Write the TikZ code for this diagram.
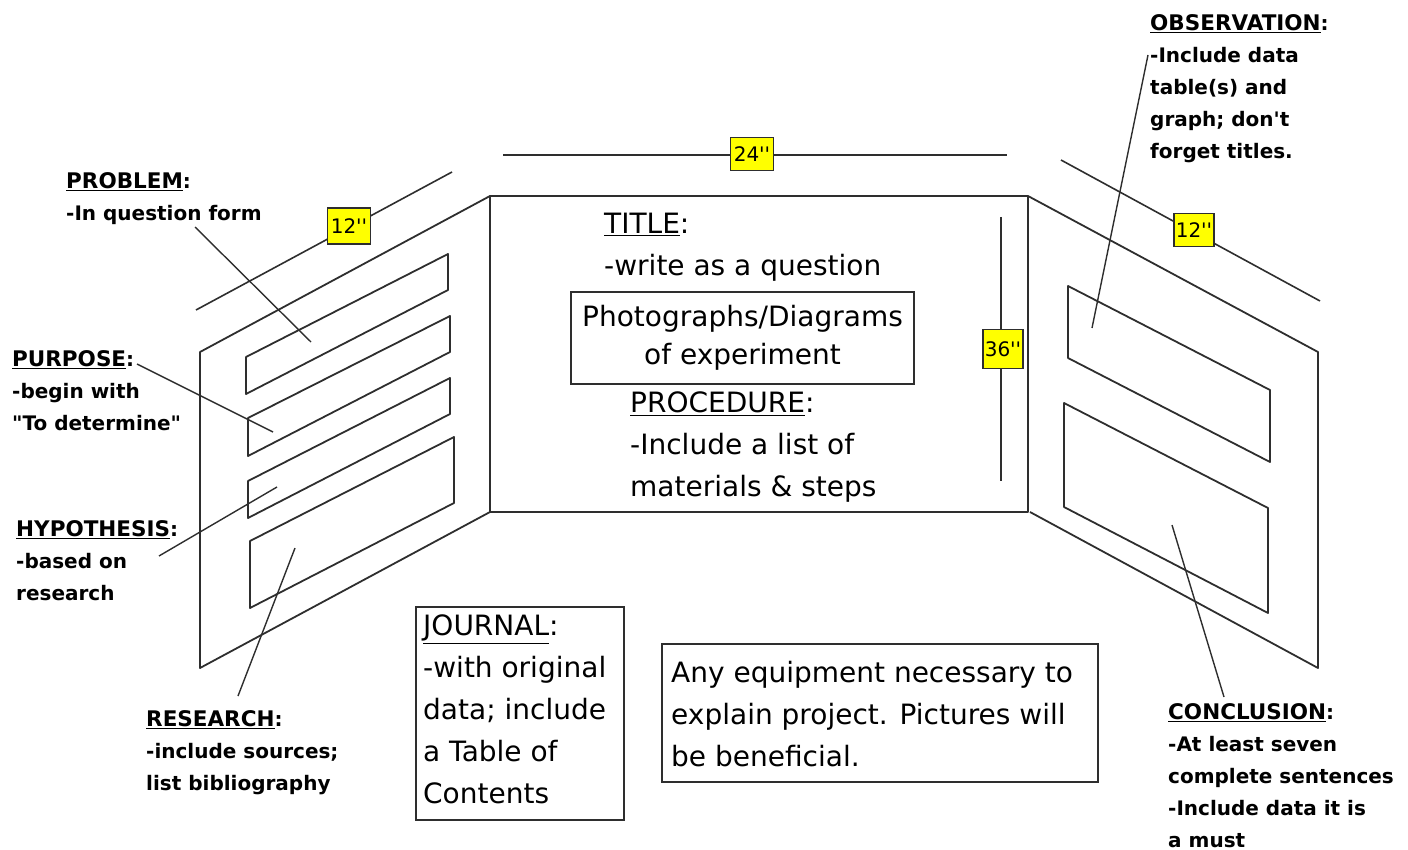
\documentclass[tikz,border=0pt]{standalone}
\usepackage{fontspec}
\newfontfamily\boardFont{DejaVu Sans}
\usetikzlibrary{positioning, calc}
\definecolor{boardInk}{HTML}{2E2E2E}
\definecolor{tagYellow}{HTML}{FFFF00}
\newcommand{\noteHead}[1]{\underline{\fontsize{21.5}{32}\selectfont #1}:}
\tikzset{
    boardLine/.style={
        draw=boardInk, line width=1.8pt, line join=round
    },
    dimLine/.style={
        draw=boardInk, line width=1.6pt
    },
    leaderLine/.style={
        draw=boardInk, line width=1.4pt
    },
    dimTag/.style={
        draw=boardInk, fill=tagYellow, line width=1.8pt, inner sep=0pt, font=\boardFont\fontsize{20}{22}\selectfont, text=black
    },
    smallNote/.style={
        anchor=north west, align=left, inner sep=0pt, text=black, font=\boardFont\fontsize{20}{32}\selectfont\bfseries
    },
    bigNote/.style={
        anchor=north west, align=left, inner sep=0pt, text=black, font=\boardFont\fontsize{28}{42}\selectfont
    },
    noteBox/.style={
        draw=boardInk, line width=1.8pt
    }
}

\begin{document}
\begin{tikzpicture}[x=1pt, y=-1pt]
    \useasboundingbox (0, 0) rectangle (1408, 850);

    % ── BOARD PANELS
    \draw[boardLine] (490, 196) rectangle (1028, 512);
    \draw[boardLine] (490, 196) -- (200, 352) -- (200, 668) -- (490, 512);
    \draw[boardLine] (1028, 196) -- (1318, 352) -- (1318, 668) -- (1030, 512);

    % ── LEFT PANEL SLOTS
    \draw[boardLine] (448, 254) -- (448, 290) -- (246, 394) -- (246, 357) -- cycle;
    \draw[boardLine] (450, 316) -- (450, 352) -- (248, 456) -- (248, 418) -- cycle;
    \draw[boardLine] (450, 378) -- (450, 414) -- (248, 518) -- (248, 481) -- cycle;
    \draw[boardLine] (454, 437) -- (454, 503) -- (250, 608) -- (250, 541) -- cycle;

    % ── RIGHT PANEL SLOTS
    \draw[boardLine] (1068, 286) -- (1270, 390) -- (1270, 462) -- (1068, 358) -- cycle;
    \draw[boardLine] (1064, 403) -- (1268, 508) -- (1268, 613) -- (1064, 507) -- cycle;

    % ── DIMENSION LINES
    \coordinate (leftDimA) at (196, 310);
    \coordinate (leftDimB) at (452, 172);
    \coordinate (rightDimA) at (1061, 160);
    \coordinate (rightDimB) at (1320, 301);
    \coordinate (topDimA) at (503, 155);
    \coordinate (topDimB) at (1007, 155);
    \coordinate (heightDimA) at (1001, 217);
    \coordinate (heightDimB) at (1001, 481);

    \draw[dimLine] (leftDimA) -- (leftDimB);
    \draw[dimLine] (rightDimA) -- (rightDimB);
    \draw[dimLine] (topDimA) -- (topDimB);
    \draw[dimLine] (heightDimA) -- (heightDimB);

    % ── DIMENSION TAGS
    \node[dimTag, minimum width=43, minimum height=36] (tagLeft) at (349, 226) {12''};
    \node[dimTag, minimum width=40, minimum height=33] (tagRight) at (1194, 230) {12''};
    \node[dimTag, minimum width=43, minimum height=33] (tagTop) at (752, 154) {24''};
    \node[dimTag, minimum width=40, minimum height=39] (tagHeight) at (1003, 349) {36''};

    % ── SIDE NOTES
    \node[smallNote] (problemNote) at (66, 172) {\noteHead{PROBLEM}\\-In question form};
    \node[smallNote] (purposeNote) at (12, 350) {\noteHead{PURPOSE}\\-begin with\\"To determine"};
    \node[smallNote] (hypothesisNote) at (16, 520) {\noteHead{HYPOTHESIS}\\-based on\\research};
    \node[smallNote] (researchNote) at (146, 710) {\noteHead{RESEARCH}\\-include sources;\\list bibliography};
    \node[smallNote] (observationNote) at (1150, 14) {\noteHead{OBSERVATION}\\-Include data\\table(s) and\\graph; don't\\forget titles.};
    \node[smallNote] (conclusionNote) at (1168, 703) {\noteHead{CONCLUSION}\\-At least seven\\complete sentences\\-Include data it is\\a must};

    % ── LEADER LINES
    \coordinate (problemFrom) at (195, 227);
    \coordinate (problemTo) at (311, 342);
    \coordinate (purposeFrom) at (137, 364);
    \coordinate (purposeTo) at (273, 432);
    \coordinate (hypothesisFrom) at (159, 556);
    \coordinate (hypothesisTo) at (277, 487);
    \coordinate (researchFrom) at (238, 696);
    \coordinate (researchTo) at (295, 548);
    \coordinate (observationFrom) at (1148, 55);
    \coordinate (observationTo) at (1092, 328);
    \coordinate (conclusionFrom) at (1224, 697);
    \coordinate (conclusionTo) at (1172, 525);

    \draw[leaderLine] (problemFrom) -- (problemTo);
    \draw[leaderLine] (purposeFrom) -- (purposeTo);
    \draw[leaderLine] (hypothesisFrom) -- (hypothesisTo);
    \draw[leaderLine] (researchFrom) -- (researchTo);
    \draw[leaderLine] (observationFrom) -- (observationTo);
    \draw[leaderLine] (conclusionFrom) -- (conclusionTo);

    % ── CENTRE PANEL TEXT
    \node[bigNote] (titleNote) at (604, 213) {\underline{TITLE}:\\-write as a question};
    \node[noteBox, minimum width=343, minimum height=92, align=center, text=black, inner sep=0pt, font=\boardFont\fontsize{28}{38}\selectfont] (photoBox) at (742.5, 338) {Photographs/Diagrams\\of experiment};
    \node[bigNote] (procedureNote) at (630, 392) {\underline{PROCEDURE}:\\-Include a list of\\materials \& steps};

    % ── BOXES BELOW THE BOARD
    \node[noteBox, minimum width=208, minimum height=213] (journalBox) at (520, 713.5) {};
    \node[bigNote] (journalNote) at (423, 615) {\underline{JOURNAL}:\\-with original\\data; include\\a Table of\\Contents};
    \node[noteBox, minimum width=436, minimum height=138] (equipmentBox) at (880, 713) {};
    \node[bigNote] (equipmentNote) at (671, 661) {Any equipment necessary to\\explain project. Pictures will\\be beneficial.};
\end{tikzpicture}
\end{document}
